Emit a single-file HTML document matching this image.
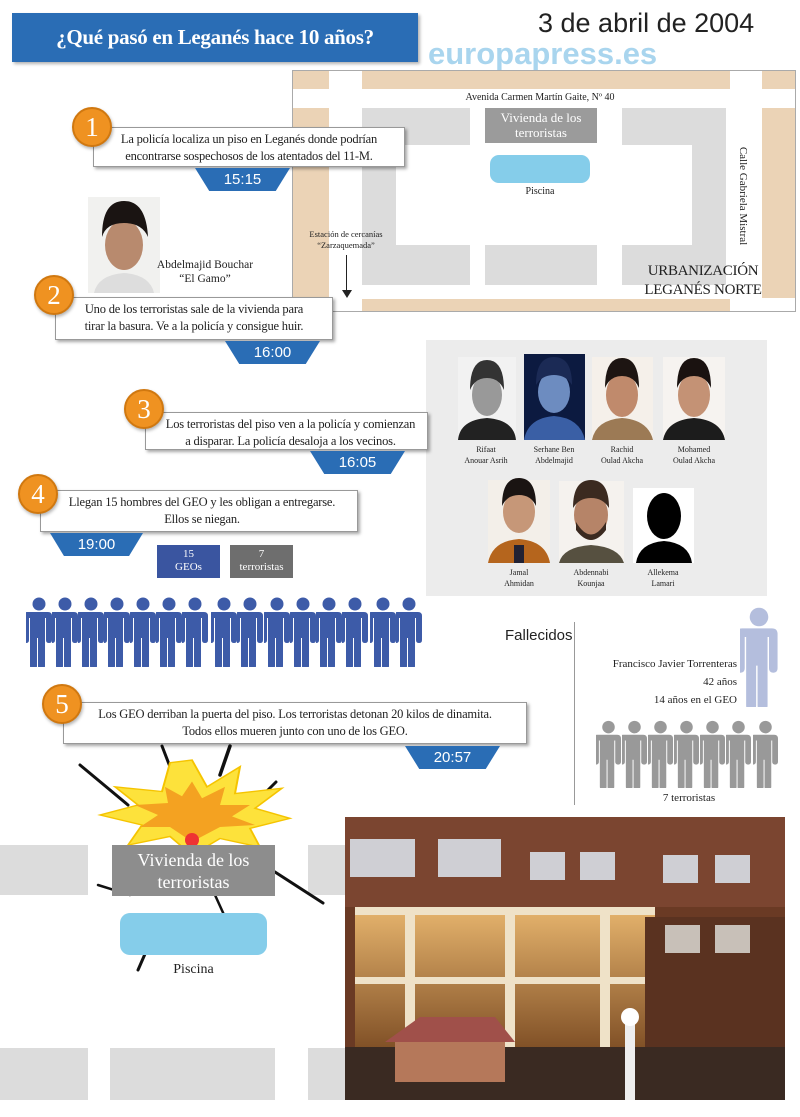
<!DOCTYPE html>
<html><head><meta charset="utf-8"><style>
*{margin:0;padding:0;box-sizing:border-box}
body{width:800px;height:1117px;background:#fff;position:relative;overflow:hidden;font-family:"Liberation Serif",serif;color:#222}
.a{position:absolute}
.box{position:absolute;background:#fff;border:1px solid #999;box-shadow:2px 2px 3px rgba(0,0,0,.35);font-size:12.5px;line-height:17px;text-align:center;padding-top:3px;letter-spacing:-0.2px}
.num{position:absolute;width:40px;height:40px;border-radius:50%;background:#ef9221;border:2px solid #d07810;color:#fff;font-size:27px;text-align:center;line-height:36px;box-shadow:1px 2px 3px rgba(0,0,0,.3)}
.tab{position:absolute;height:23px;background:#2a6db5;color:#fff;font-family:"Liberation Sans",sans-serif;font-size:15px;text-align:center;line-height:23px;clip-path:polygon(0 0,100% 0,85% 100%,15% 100%)}
.nm{position:absolute;font-size:8px;text-align:center;line-height:11px;width:70px}
.g{position:absolute;background:#dcdcdc}
.t{position:absolute;background:#ebd3b6}
</style></head><body>
<svg width="0" height="0" style="position:absolute"><defs>
<symbol id="p" viewBox="0 0 26 70"><circle cx="13" cy="7" r="6.5"/><path d="M4 15h18q4 0 4 4v24q0 3-3 3t-3-3v-22h-1v48q0 3-3.5 3t-3.5-3v-28h-1v28q0 3-3.5 3t-3.5-3v-48h-1v22q0 3-3 3t-3-3v-24q0-4 4-4z"/></symbol>
</defs></svg>

<div class="a" style="left:12px;top:13px;width:406px;height:49px;background:#2a6db5;box-shadow:2px 2px 3px rgba(0,0,0,.3);color:#fff;font-size:21px;font-weight:bold;text-align:center;line-height:49px;letter-spacing:-0.3px">¿Qué pasó en Leganés hace 10 años?</div>
<div class="a" style="left:538px;top:8px;font-family:'Liberation Sans',sans-serif;font-size:27px;color:#222">3 de abril de 2004</div>
<div class="a" style="left:428px;top:36px;font-family:'Liberation Sans',sans-serif;font-size:31px;font-weight:bold;color:#a9d5ee">europapress.es</div>

<!-- map -->
<div class="a" style="left:292px;top:70px;width:504px;height:242px;border:1px solid #aaa;background:#fff"></div>
<div class="t" style="left:293px;top:71px;width:36px;height:18px"></div>
<div class="t" style="left:362px;top:71px;width:368px;height:18px"></div>
<div class="t" style="left:762px;top:71px;width:33px;height:18px"></div>
<div class="t" style="left:293px;top:108px;width:36px;height:190px"></div>
<div class="t" style="left:762px;top:108px;width:33px;height:190px"></div>
<div class="t" style="left:362px;top:299px;width:368px;height:12px"></div>
<div class="g" style="left:362px;top:108px;width:108px;height:37px"></div>
<div class="g" style="left:362px;top:108px;width:34px;height:177px"></div>
<div class="g" style="left:622px;top:108px;width:104px;height:37px"></div>
<div class="g" style="left:692px;top:108px;width:34px;height:177px"></div>
<div class="g" style="left:362px;top:245px;width:108px;height:40px"></div>
<div class="g" style="left:485px;top:245px;width:112px;height:40px"></div>
<div class="g" style="left:622px;top:245px;width:104px;height:40px"></div>
<div class="a" style="left:485px;top:108px;width:112px;height:35px;background:#9b9b9b;color:#fff;font-size:13px;line-height:15px;text-align:center;padding-top:2px">Vivienda de los<br>terroristas</div>
<div class="a" style="left:490px;top:155px;width:100px;height:28px;border-radius:9px;background:#85cdea"></div>
<div class="a" style="left:490px;top:186px;width:100px;text-align:center;font-size:10px">Piscina</div>
<div class="a" style="left:420px;top:92px;width:240px;text-align:center;font-size:10px">Avenida Carmen Martín Gaite, Nº 40</div>
<div class="a" style="left:668px;top:190px;width:150px;text-align:center;font-size:11px;transform:rotate(90deg)">Calle Gabriela Mistral</div>
<div class="a" style="left:290px;top:229px;width:112px;text-align:center;font-size:8.5px;line-height:11px">Estación de cercanías<br>“Zarzaquemada”</div>
<div class="a" style="left:346px;top:255px;width:1px;height:38px;background:#222"></div>
<div class="a" style="left:342px;top:290px;border-left:5px solid transparent;border-right:5px solid transparent;border-top:8px solid #222"></div>
<div class="a" style="left:620px;top:262px;width:166px;text-align:center;font-size:15px;line-height:19px;letter-spacing:-0.3px">URBANIZACIÓN<br>LEGANÉS NORTE</div>

<!-- 1 -->
<div class="box" style="left:93px;top:127px;width:312px;height:40px">La policía localiza un piso en Leganés donde podrían<br>encontrarse sospechosos de los atentados del 11-M.</div>
<div class="num" style="left:72px;top:107px">1</div>
<div class="tab" style="left:195px;top:168px;width:95px">15:15</div>

<!-- Bouchar photo -->
<svg class="a" style="left:88px;top:197px" width="72" height="96"><rect width="72" height="96" fill="#f1f1ef"/><path d="M6 96q4-18 30-20q26 2 30 20z" fill="#ddd"/><ellipse cx="36" cy="48" rx="19" ry="25" fill="#b88a6e"/><path d="M14 40q0-36 22-36t24 36q-6-14-24-14t-22 14z" fill="#1a1412"/></svg>
<div class="a" style="left:145px;top:258px;width:120px;text-align:center;font-size:11.5px;line-height:14px">Abdelmajid Bouchar<br>“El Gamo”</div>

<!-- 2 -->
<div class="box" style="left:55px;top:297px;width:278px;height:43px">Uno de los terroristas sale de la vivienda para<br>tirar la basura. Ve a la policía y consigue huir.</div>
<div class="num" style="left:34px;top:275px">2</div>
<div class="tab" style="left:225px;top:341px;width:95px">16:00</div>

<!-- panel -->
<div class="a" style="left:426px;top:340px;width:341px;height:256px;background:#ececec"></div>
<svg class="a" style="left:426px;top:340px" width="341" height="256">
<g><rect x="32" y="17" width="58" height="83" fill="#f2f2f2"/><ellipse cx="61" cy="55" rx="15" ry="21" fill="#999"/><path d="M44 50q0-30 17-30t17 30q-5-12-17-12t-17 12z" fill="#333"/><path d="M32 100q2-20 29-22q27 2 29 22z" fill="#222"/></g>
<g><rect x="98" y="14" width="61" height="86" fill="#0c1a40"/><ellipse cx="128" cy="52" rx="16" ry="21" fill="#6d8cc0"/><path d="M110 45q0-28 18-28t18 28q-6-10-18-10t-18 10z" fill="#1b2a55"/><path d="M98 100q4-22 30-24q26 2 31 24z" fill="#3a5fa5"/></g>
<g><rect x="166" y="17" width="61" height="83" fill="#f5f0ea"/><ellipse cx="196" cy="55" rx="16" ry="22" fill="#c08a6c"/><path d="M179 48q0-30 17-30t17 30q-5-12-17-12t-17 12z" fill="#1d1512"/><path d="M166 100q4-20 30-22q26 2 31 22z" fill="#9c7a55"/></g>
<g><rect x="237" y="17" width="62" height="83" fill="#f6f3f0"/><ellipse cx="268" cy="55" rx="16" ry="22" fill="#c49275"/><path d="M251 48q0-30 17-30t17 30q-5-12-17-12t-17 12z" fill="#1a1210"/><path d="M237 100q4-20 31-22q27 2 31 22z" fill="#1c1c1c"/></g>
<g><rect x="62" y="140" width="62" height="83" fill="#f3efe9"/><ellipse cx="93" cy="172" rx="16" ry="21" fill="#c69778"/><path d="M76 166q0-28 17-28t17 28q-5-11-17-11t-17 11z" fill="#1a1412"/><path d="M62 223q4-22 31-24q27 2 31 24z" fill="#b5651d"/><rect x="88" y="205" width="10" height="18" fill="#223"/></g>
<g><rect x="133" y="141" width="65" height="82" fill="#f5f2ee"/><ellipse cx="165" cy="175" rx="17" ry="22" fill="#b68468"/><path d="M150 182q15 25 30 0v8q-15 20-30 0z" fill="#3b2a20"/><path d="M147 168q0-28 18-28t18 28q-6-10-18-10t-18 10z" fill="#3b2a20"/><path d="M133 223q4-16 32-18q28 2 33 18z" fill="#565040"/></g>
<g><rect x="207" y="148" width="61" height="75" fill="#fff"/><ellipse cx="238" cy="176" rx="17" ry="23" fill="#000"/><path d="M210 223q3-20 28-22q25 2 28 22z" fill="#000"/></g>
</svg>
<div class="nm" style="left:451px;top:444px">Rifaat<br>Anouar Asrih</div>
<div class="nm" style="left:519px;top:444px">Serhane Ben<br>Abdelmajid</div>
<div class="nm" style="left:587px;top:444px">Rachid<br>Oulad Akcha</div>
<div class="nm" style="left:659px;top:444px">Mohamed<br>Oulad Akcha</div>
<div class="nm" style="left:484px;top:567px">Jamal<br>Ahmidan</div>
<div class="nm" style="left:556px;top:567px">Abdennabi<br>Kounjaa</div>
<div class="nm" style="left:628px;top:567px">Allekema<br>Lamari</div>

<!-- 3 -->
<div class="box" style="left:145px;top:412px;width:283px;height:38px;padding-left:8px">Los terroristas del piso ven a la policía y comienzan<br>a disparar. La policía desaloja a los vecinos.</div>
<div class="num" style="left:124px;top:389px">3</div>
<div class="tab" style="left:310px;top:451px;width:95px">16:05</div>

<!-- 4 -->
<div class="box" style="left:40px;top:490px;width:318px;height:42px;padding-left:6px">Llegan 15 hombres del GEO y les obligan a entregarse.<br>Ellos se niegan.</div>
<div class="num" style="left:18px;top:474px">4</div>
<div class="tab" style="left:50px;top:533px;width:93px">19:00</div>
<div class="a" style="left:157px;top:545px;width:63px;height:33px;background:#3a55a0;color:#fff;font-size:11px;line-height:13px;text-align:center;padding-top:3px">15<br>GEOs</div>
<div class="a" style="left:230px;top:545px;width:63px;height:33px;background:#6e6e6e;color:#fff;font-size:11px;line-height:13px;text-align:center;padding-top:3px">7<br>terroristas</div>

<!-- blue people -->
<svg class="a" style="left:26px;top:597px" width="400" height="70" fill="#3d5ba8">
<use href="#p" x="0" width="26" height="70"/><use href="#p" x="26" width="26" height="70"/><use href="#p" x="52" width="26" height="70"/><use href="#p" x="78" width="26" height="70"/><use href="#p" x="104" width="26" height="70"/><use href="#p" x="130" width="26" height="70"/><use href="#p" x="156" width="26" height="70"/><use href="#p" x="185" width="26" height="70"/><use href="#p" x="211" width="26" height="70"/><use href="#p" x="238" width="26" height="70"/><use href="#p" x="264" width="26" height="70"/><use href="#p" x="290" width="26" height="70"/><use href="#p" x="316" width="26" height="70"/><use href="#p" x="344" width="26" height="70"/><use href="#p" x="370" width="26" height="70"/>
</svg>

<!-- fallecidos -->
<div class="a" style="left:505px;top:627px;font-family:'Liberation Sans',sans-serif;font-size:15px">Fallecidos</div>
<div class="a" style="left:574px;top:622px;width:1px;height:183px;background:#999"></div>
<svg class="a" style="left:740px;top:607px" width="38" height="100" fill="#b4bedd"><use href="#p" width="38" height="100"/></svg>
<div class="a" style="left:580px;top:655px;width:157px;text-align:right;font-size:11px;line-height:18px">Francisco Javier Torrenteras<br>42 años<br>14 años en el GEO</div>
<svg class="a" style="left:596px;top:720px" width="184" height="68" fill="#999">
<use href="#p" x="0" width="25" height="68"/><use href="#p" x="26" width="25" height="68"/><use href="#p" x="52" width="25" height="68"/><use href="#p" x="78" width="25" height="68"/><use href="#p" x="104" width="25" height="68"/><use href="#p" x="130" width="25" height="68"/><use href="#p" x="157" width="25" height="68"/>
</svg>
<div class="a" style="left:630px;top:792px;width:118px;text-align:center;font-size:11px">7 terroristas</div>

<!-- 5 -->
<div class="box" style="left:63px;top:702px;width:464px;height:42px">Los GEO derriban la puerta del piso. Los terroristas detonan 20 kilos de dinamita.<br>Todos ellos mueren junto con uno de los GEO.</div>
<div class="num" style="left:42px;top:684px">5</div>
<div class="tab" style="left:405px;top:746px;width:95px">20:57</div>

<!-- bottom map/explosion -->
<div class="g" style="left:0;top:845px;width:88px;height:50px"></div>
<div class="g" style="left:308px;top:845px;width:40px;height:50px"></div>
<div class="g" style="left:0;top:1048px;width:88px;height:52px"></div>
<div class="g" style="left:110px;top:1048px;width:165px;height:52px"></div>
<div class="g" style="left:308px;top:1048px;width:40px;height:52px"></div>
<svg class="a" style="left:70px;top:740px" width="280" height="240">
<g stroke="#111" stroke-linecap="round">
<line x1="10" y1="25" x2="58" y2="65" stroke-width="3"/><line x1="92" y1="6" x2="102" y2="32" stroke-width="3"/><line x1="160" y1="6" x2="150" y2="35" stroke-width="3.5"/><line x1="206" y1="42" x2="186" y2="62" stroke-width="3"/>
<line x1="253" y1="163" x2="205" y2="132" stroke-width="3"/><line x1="145" y1="155" x2="160" y2="188" stroke-width="2.5"/><line x1="60" y1="155" x2="28" y2="145" stroke-width="2.5"/><line x1="92" y1="175" x2="68" y2="230" stroke-width="3"/>
</g>
<g transform="translate(0,8) scale(1,0.67)">
<polygon points="122,18 137,58 170,28 165,68 212,60 185,90 220,105 180,120 190,148 150,135 122,160 100,132 58,145 72,115 30,100 68,85 45,58 92,65 100,22" fill="#fde23b" stroke="#f5c400" stroke-width="2"/>
<polygon points="122,50 132,75 155,58 150,85 180,85 162,102 185,115 150,118 122,140 100,118 70,118 88,100 65,85 98,82 95,58 112,72" fill="#f4a221"/>
</g>
<circle cx="122" cy="100" r="7" fill="#e33"/>
</svg>
<div class="a" style="left:112px;top:845px;width:163px;height:51px;background:#8d8d8d;color:#fff;font-size:18px;line-height:22px;text-align:center;padding-top:4px">Vivienda de los<br>terroristas</div>
<div class="a" style="left:120px;top:913px;width:147px;height:42px;border-radius:10px;background:#85cdea"></div>
<div class="a" style="left:120px;top:962px;width:147px;text-align:center;font-size:14px">Piscina</div>

<!-- photo -->
<svg class="a" style="left:345px;top:817px" width="440" height="283">
<defs><linearGradient id="gl" x1="0" y1="0" x2="0" y2="1"><stop offset="0" stop-color="#e7b56e"/><stop offset="1" stop-color="#7a4a22"/></linearGradient></defs>
<rect width="440" height="283" fill="#6a3a24"/>
<rect y="0" width="440" height="90" fill="#7b4530"/>
<g fill="#cfcfd4"><rect x="5" y="22" width="65" height="38"/><rect x="93" y="22" width="63" height="38"/><rect x="185" y="35" width="35" height="28"/><rect x="235" y="35" width="35" height="28"/><rect x="318" y="38" width="35" height="28"/><rect x="370" y="38" width="35" height="28"/></g>
<rect x="10" y="90" width="300" height="150" fill="url(#gl)"/>
<g fill="#efe2c8"><rect x="10" y="90" width="300" height="8"/><rect x="10" y="160" width="300" height="7"/><rect x="60" y="98" width="10" height="140"/><rect x="160" y="98" width="10" height="140"/><rect x="255" y="98" width="10" height="140"/></g>
<rect x="300" y="100" width="140" height="183" fill="#5a3220"/>
<g fill="#c8c0b8"><rect x="320" y="108" width="35" height="28"/><rect x="370" y="108" width="35" height="28"/></g>
<rect x="0" y="230" width="440" height="53" fill="#3a2a22"/>
<polygon points="40,225 75,200 150,200 170,225" fill="#a0504a"/><rect x="50" y="225" width="110" height="40" fill="#b5785a"/>
<rect x="280" y="200" width="10" height="83" fill="#eee"/><circle cx="285" cy="200" r="9" fill="#fff"/>
</svg>
</body></html>
